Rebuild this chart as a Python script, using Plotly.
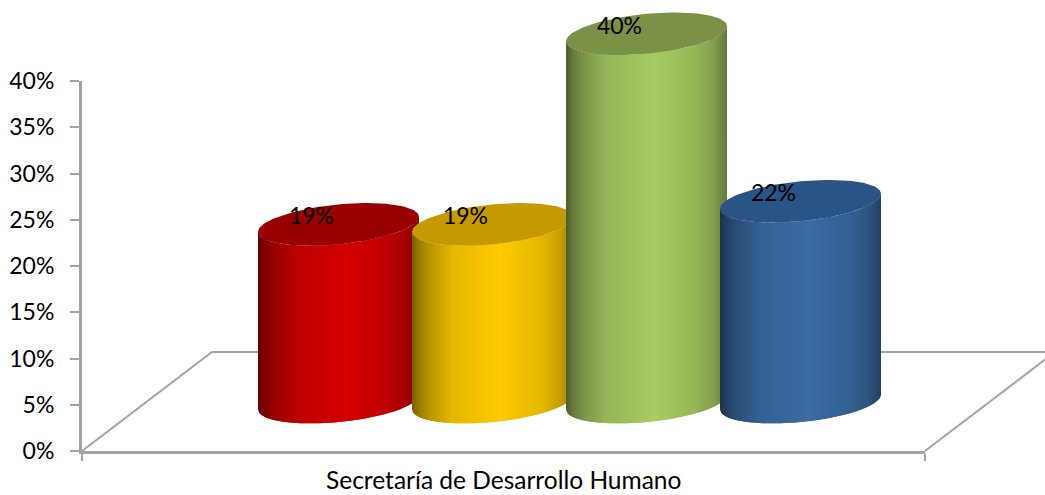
import numpy as np
import plotly.graph_objects as go

category = "Secretaría de Desarrollo Humano"
series_values = [19.2, 19.2, 39.8, 21.7]
tick_values = [0, 5, 10, 15, 20, 25, 30, 35, 40]
tick_labels = ["0%", "5%", "10%", "15%", "20%", "25%", "30%", "35%", "40%"]

side_colors = ["#d40000", "#ffcc00", "#a8cb62", "#3b6ca3"]
cap_colors = ["#990000", "#c49a00", "#7b9148", "#2a5485"]

W, H = 1045, 495
L, R, T, B_PX = 82, 925, 81, 451
PX_X = 154.0          # px per category slot
PX_Y = (B_PX - T) / 40  # px per percent
X_MIN = (82 - 338.5) / PX_X  # left end of the axis (slot units, first cylinder at 0)
X_MAX = X_MIN + (R - L) / PX_X
FONT = "Lato"
AXIS = "#a3a3a3"

# 3D projection constants (in axis units)
BASE = 49 / PX_Y      # base centre height caused by the floor depth
HALF_W = 80.5 / PX_X  # cylinder half width
MINOR = 20 / PX_Y     # ellipse minor half axis
TILT = 7.5 / PX_Y     # ellipse tilt
DEPTH_X, DEPTH_Y = 130 / PX_X, 99 / PX_Y

SHADE_T = [0, .04, .1, .25, .55, .8, .92, 1]
SHADE_F = [.45, .6, .72, .9, 1, .9, .78, .6]


def shade(hex_color, f):
    r, g, b = (int(hex_color[i:i + 2], 16) for i in (1, 3, 5))
    return f"rgb({int(r * f)},{int(g * f)},{int(b * f)})"


def front_edge(yc, u):
    return yc + TILT * u - MINOR * np.sqrt(np.clip(1 - u * u, 0, 1))


fig = go.Figure()
COMMON = dict(xaxis="x2", yaxis="y2", hoverinfo="skip", showlegend=False)

# keeps the visible axes alive; a single point draws nothing
fig.add_trace(go.Scatter(x=[X_MIN], y=[0], mode="lines", line=dict(width=0),
                         hoverinfo="skip", showlegend=False))

# floor
fig.add_trace(go.Scatter(
    x=[X_MIN, X_MIN + DEPTH_X, X_MAX + DEPTH_X, X_MAX],
    y=[0, DEPTH_Y, DEPTH_Y, 0],
    mode="lines", line=dict(color=AXIS, width=2), **COMMON))

N = 70
for i, v in enumerate(series_values):
    top = BASE + v
    edges = np.linspace(-1, 1, N + 1)
    for j in range(N):
        u = np.linspace(edges[j], edges[min(j + 2, N)], 5)
        xs = i + u * HALF_W
        f = np.interp((edges[j] + edges[j + 1]) / 4 + .5, SHADE_T, SHADE_F)
        fig.add_trace(go.Scatter(
            x=np.r_[xs, xs[::-1]],
            y=np.r_[front_edge(top, u), front_edge(BASE, u)[::-1]],
            mode="lines", fill="toself", line=dict(width=0),
            fillcolor=shade(side_colors[i], f), **COMMON))
    t = np.linspace(0, 2 * np.pi, 121)
    fig.add_trace(go.Scatter(
        x=i + HALF_W * np.cos(t), y=top + TILT * np.cos(t) + MINOR * np.sin(t),
        mode="lines", fill="toself", line=dict(width=0),
        fillcolor=cap_colors[i], **COMMON))

# value labels
fig.add_trace(go.Scatter(
    x=[i - 27 / PX_X for i in range(len(series_values))],
    y=[BASE + v + 6 / PX_Y for v in series_values],
    mode="text", text=[f"{round(v)}%" for v in series_values],
    textposition="middle center",
    textfont=dict(family=FONT, size=23, color="#000000"), **COMMON))

fig.update_layout(
    width=W, height=H, autosize=False,
    margin=dict(l=0, r=0, t=0, b=0),
    paper_bgcolor="rgba(0,0,0,0)", plot_bgcolor="rgba(0,0,0,0)",
    font=dict(family=FONT, size=23, color="#000000"),
    xaxis=dict(
        domain=[L / W, R / W], anchor="y", automargin=False,
        range=[X_MIN, X_MAX], tickvals=[X_MIN, X_MAX], ticktext=["", ""],
        ticks="outside", ticklen=7, tickwidth=2, tickcolor=AXIS,
        showgrid=False, zeroline=False, showline=True, linecolor=AXIS, linewidth=3,
    ),
    yaxis=dict(
        domain=[(H - B_PX) / H, (H - T) / H], anchor="x", automargin=False,
        range=[0, 40], tickvals=tick_values, ticktext=tick_labels,
        ticks="outside", ticklen=9, tickwidth=2, tickcolor=AXIS,
        ticklabelstandoff=11,
        showgrid=False, zeroline=False, showline=True, linecolor=AXIS, linewidth=3,
    ),
    xaxis2=dict(
        domain=[0, 1], anchor="y2", visible=False,
        range=[X_MIN - L / PX_X, X_MIN + (W - L) / PX_X],
    ),
    yaxis2=dict(
        domain=[0, 1], anchor="x2", visible=False,
        range=[-(H - B_PX) / PX_Y, B_PX / PX_Y],
    ),
    annotations=[dict(
        text=category, xref="x", yref="paper",
        x=(X_MIN + X_MAX) / 2, y=(H - 479) / H,
        xanchor="center", yanchor="middle", showarrow=False, borderpad=0,
        font=dict(family=FONT, size=24.5, color="#000000"),
    )],
)

fig.write_html("out.html", config={"displayModeBar": False},
               post_script="document.body.style.margin='0';")
